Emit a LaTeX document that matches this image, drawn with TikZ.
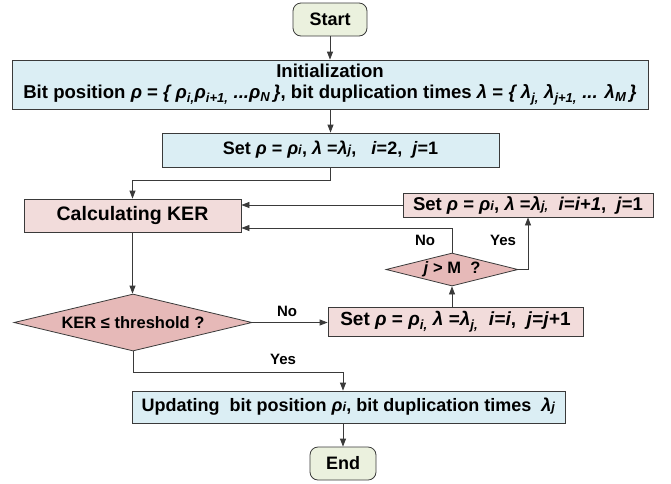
\documentclass[tikz,border=0pt]{standalone}
\usepackage{fontspec}
\setmainfont{Liberation Sans}
\usetikzlibrary{shapes.geometric,arrows.meta}
\definecolor{startfill}{HTML}{EBF1DE}
\definecolor{bluefill}{HTML}{DBEEF4}
\definecolor{pinkfill}{HTML}{F2DCDB}
\definecolor{diafill}{HTML}{E6B9B8}
\definecolor{edgecol}{HTML}{3A3A3A}
\newcommand\gr[1]{\textit{#1}}
\newcommand\sbx[1]{\textsubscript{\textit{#1}}}
\newcommand\smi[1]{{\fontsize{13}{13}\selectfont\textit{#1}}}
\newcommand\fs[1]{\bfseries\fontsize{#1}{21}\selectfont}
\begin{document}
\begin{tikzpicture}[x=1pt,y=-1pt,
  base/.style={draw=edgecol, line width=0.8pt, inner sep=0pt, font=\fs{18}},
  terminal/.style={base, rounded corners=8pt, fill=startfill},
  bluebox/.style={base, fill=bluefill},
  pinkbox/.style={base, fill=pinkfill},
  decision/.style={base, diamond, fill=diafill, aspect=4, font=\fs{16.5}},
  arr/.style={draw=edgecol, line width=0.8pt, -{Triangle[length=8pt,width=6pt]}},
  lbl/.style={font=\fs{15}, inner sep=0pt}]
\useasboundingbox (0,0) rectangle (671,483);
\node[terminal, minimum width=74pt, minimum height=33pt] (start) at (330,19.5) {Start};
\node[bluebox, minimum width=636pt, minimum height=49pt, align=center, font=\fs{18.6}] (init) at (330,84.5)
  {Initialization\\ Bit position \gr{ρ} = \gr{\{ ρ\sbx{i,}ρ\sbx{i+1,} ...ρ\sbx{N}\,\}}, bit duplication times \gr{λ} = \gr{\{ λ\sbx{j,} λ\sbx{j+1,} ... λ\sbx{M}\,\}}};
\node[bluebox, minimum width=337pt, minimum height=34pt] (set1) at (330.5,150)
  {Set \gr{ρ} = \gr{ρ}\smi{i}, \gr{λ} =\gr{λ}\smi{j},~~~\gr{i}=2,~~\gr{j}=1};
\node[pinkbox, minimum width=217pt, minimum height=33pt, font=\fs{19.5}] (calc) at (132.5,215.5) {Calculating KER};
\node[pinkbox, minimum width=250pt, minimum height=24pt, font=\fs{18.5}] (set2) at (528,205)
  {Set \gr{ρ} = \gr{ρ}\smi{i}, \gr{λ} =\gr{λ}\smi{j,}~~\gr{i}=\gr{i+1},~~\gr{j}=1};
\node[decision, minimum width=132pt, minimum height=33pt] (jm) at (452,269.5) {\gr{j} > M~~?};
\node[pinkbox, minimum width=255pt, minimum height=29pt, font=\fs{19}] (set3) at (455.5,321.5)
  {Set \gr{ρ} = \gr{ρ}\sbx{i,} \gr{λ} =\gr{λ}\sbx{j,}~~\gr{i}=\gr{i},~~\gr{j}=\gr{j}+1};
\node[decision, minimum width=238pt, minimum height=57pt] (ker) at (133,322.5) {KER ≤ threshold ?};
\node[bluebox, minimum width=433pt, minimum height=32pt] (upd) at (348.5,407)
  {Updating~~bit position \gr{ρ}\smi{i}, bit duplication times~~\gr{λ}\smi{j}};
\node[terminal, minimum width=66pt, minimum height=33pt] (end) at (343,463.5) {End};
% connectors
\draw[arr] (start) -- (init);
\draw[arr] (set1.north |- init.south) -- (set1.north);
\draw[arr] (set1.south) -- ++(0,13) -| (calc.north);
\draw[arr] (set2.west) -- (set2.west -| calc.east);
\draw[arr] (jm.north) |- ([yshift=-12.5pt]calc.east);
\draw[arr] (jm.east) -| (set2.south);
\draw[arr] (jm.south |- set3.north) -- (jm.south);
\draw[arr] (calc.south) -- (calc.south |- ker.north);
\draw[arr] (ker.east) -- (ker.east -| set3.west);
\draw[arr] (ker.south) -- ++(0,21) -| (end.north |- upd.north);
\draw[arr] (end.north |- upd.south) -- (end.north);
% labels
\node[lbl] (no1) at (425,240) {No};
\node[lbl] (yes1) at (503,240) {Yes};
\node[lbl] (no2) at (287,311) {No};
\node[lbl] (yes2) at (283,359) {Yes};
\end{tikzpicture}
\end{document}
